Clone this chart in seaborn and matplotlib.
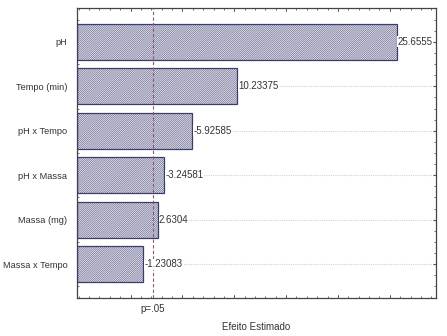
import matplotlib
matplotlib.use("Agg")
import matplotlib.pyplot as plt
from matplotlib.ticker import FixedLocator
import seaborn as sns
import pandas as pd
import numpy as np

factors = ["pH", "Tempo (min)", "pH x Tempo", "pH x Massa", "Massa (mg)", "Massa x Tempo"]
effects = [25.6555, 10.23375, -5.92585, -3.24581, 2.6304, -1.23083]
effect_labels = ["25.6555", "10.23375", "-5.92585", "-3.24581", "2.6304", "-1.23083"]
p_value_line = 2.16
p_label = "p=.05"
x_label = "Efeito Estimado"

XMIN, XMAX = -5.16, 29.45

sns.set_style("white")
plt.rcParams['font.family'] = ['Liberation Sans', 'DejaVu Sans']
plt.rcParams['hatch.linewidth'] = 0.4

df = pd.DataFrame({"factor": factors, "effect": effects})
df["bar_len"] = df["effect"].abs() - XMIN

fig = plt.figure(figsize=(4.47, 3.36), dpi=100)
ax = fig.add_axes([77/447, 1-298/336, (436-77)/447, (298-8)/336])

for i in range(len(factors)):
    ax.axhline(i, color="#d4d4d4", lw=0.8, ls=(0, (1, 1)), zorder=0)

# hatched fill (lighter hatch colour)
sns.barplot(data=df, x="bar_len", y="factor", orient="h", ax=ax, left=XMIN,
            color="#e6e6ee", edgecolor="#5a5a84", linewidth=0, hatch="/" * 16,
            width=0.8, errorbar=None, zorder=2)
for p in ax.patches:
    p.set_facecolor("#e6e6ee")
    p.set_edgecolor("#5a5a84")
    p.set_linewidth(0)
# outline on top
for p in list(ax.patches):
    ax.add_patch(plt.Rectangle(p.get_xy(), p.get_width(), p.get_height(), fill=False,
                               edgecolor="#3c3c6a", linewidth=0.9, zorder=3))

for i, (v, lab) in enumerate(zip(effects, effect_labels)):
    ax.text(abs(v) + 0.12, i, lab, va="center", ha="left", fontsize=7, color="#333333",
            zorder=4, bbox=dict(facecolor="white", edgecolor="none", pad=0.3))

ax.axvline(p_value_line, color="#8a5a7a", lw=0.8, ls=(0, (3, 2)), zorder=3.5)

ax.set_xlim(XMIN, XMAX)
ax.set_ylim(len(factors) - 0.24, -0.76)

ax.set_xticks([p_value_line])
ax.set_xticklabels([p_label], fontsize=7, color="#333333")
ax.xaxis.set_minor_locator(FixedLocator(list(np.arange(-5, 29.5, 1.0))))
ax.tick_params(axis="x", which="major", length=0, pad=4)
ax.set_xlabel(x_label, fontsize=7, color="#333333", labelpad=6)
ax.set_ylabel("")
ax.tick_params(axis="y", which="major", labelsize=6.7, labelcolor="#333333", length=2.5,
               direction="in", color="#555555", pad=7, right=True)

ax.tick_params(axis="x", which="minor", direction="in", length=1.5, top=True, bottom=True,
               color="#555555", width=0.6)
for xv in range(0, 30, 5):
    for yv, sgn in [(0, 1), (1, -1)]:
        ax.plot([xv, xv], [yv, yv + sgn*0.012], transform=ax.get_xaxis_transform(),
                color="#555555", lw=0.7, clip_on=False, zorder=5)
ax.yaxis.set_minor_locator(FixedLocator(list(np.arange(-0.5, 5.75, 0.25))))
ax.tick_params(axis="y", which="minor", direction="in", length=1.5, left=True, right=True,
               color="#555555", width=0.6)

for s in ax.spines.values():
    s.set_color("#444444")
    s.set_linewidth(0.9)

fig.savefig("out.png", dpi=100, facecolor="white")
